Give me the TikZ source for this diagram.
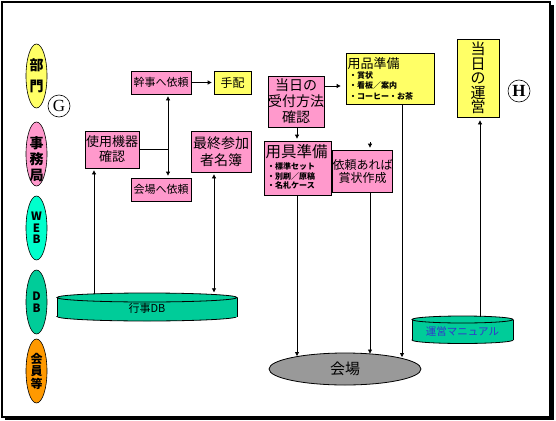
\documentclass[tikz,border=0pt]{standalone}
\usepackage{fontspec}
\setmainfont{Noto Sans CJK JP}
\newfontfamily\serifG{Liberation Serif}
\usetikzlibrary{arrows.meta,shapes.geometric,calc}
\definecolor{pinkc}{HTML}{FF99CC}
\definecolor{yellowc}{HTML}{FFFF66}
\definecolor{aquac}{HTML}{00FFCC}
\definecolor{tealc}{HTML}{00CC99}
\definecolor{orangec}{HTML}{FF9900}
\definecolor{grayc}{HTML}{999999}
\definecolor{bluec}{HTML}{3333CC}
\begin{document}
\begin{tikzpicture}[x=1pt,y=-1pt,
  box/.style={draw, line width=0.8pt, inner sep=0pt, align=center},
  lane/.style={ellipse, draw, line width=0.6pt, minimum width=21pt, minimum height=64pt, inner sep=0pt},
  lanetext/.style={inner sep=0pt, align=center, font=\bfseries\fontsize{14}{16}\selectfont},
  arr/.style={-{Triangle[length=4pt,width=4pt]}, line width=0.8pt, shorten >=2pt},
  arrb/.style={{Triangle[length=4pt,width=4pt]}-{Triangle[length=4pt,width=4pt]}, line width=0.8pt, shorten >=2pt, shorten <=2pt},
  ln/.style={line width=0.8pt},
  circ/.style={circle, draw, line width=0.6pt, minimum size=22pt, inner sep=0pt}]
\useasboundingbox (0,0) rectangle (556,420);
% frame
\draw[line width=1.2pt] (2,2) rectangle (550,417);
\fill (550,5) rectangle (554,420);
\fill (5,417) rectangle (554,420);

% lanes
\node[lane, fill=yellowc] (bumon) at (36.5,76) {};
\node[lanetext, font=\bfseries\fontsize{14}{21}\selectfont] (bumont) at (36.5,76) {部\\門};
\node[lane, fill=pinkc] (jimu) at (36.5,154) {};
\node[lanetext] (jimut) at (36.5,159) {事\\務\\局};
\node[lane, fill=aquac] (web) at (36.5,228) {};
\node[lanetext, font=\bfseries\fontsize{11.5}{11.5}\selectfont] (webt) at (36.5,228) {W\\E\\B};
\node[lane, fill=tealc] (dbl) at (36.5,302) {};
\node[lanetext, font=\bfseries\fontsize{11.5}{12}\selectfont] (dblt) at (36.5,302) {D\\B};
\node[lane, fill=orangec] (kaiin) at (36.5,371) {};
\node[lanetext, font=\bfseries\fontsize{12}{12.5}\selectfont] (kaiint) at (36.5,371) {会\\員\\等};

\node[circ, font=\serifG\fontsize{17}{17}\selectfont] (G) at (59,106) {G};
\node[circ, font=\serifG\bfseries\fontsize{17}{17}\selectfont] (H) at (519,91) {H};

% boxes
\node[box, fill=pinkc, minimum width=60pt, minimum height=23pt, font=\fontsize{11}{13}\selectfont] (kanji) at (161,82.5) {幹事へ依頼};
\node[box, fill=yellowc, minimum width=37pt, minimum height=23pt, font=\fontsize{12}{14}\selectfont] (tehai) at (232.5,82.5) {手配};
\node[box, fill=pinkc, minimum width=54pt, minimum height=37pt, font=\fontsize{13}{15}\selectfont] (shiyou) at (112,149.5) {使用機器\\確認};
\node[box, fill=pinkc, minimum width=60pt, minimum height=23pt, font=\fontsize{11}{13}\selectfont] (kaiirai) at (161,189.5) {会場へ依頼};
\node[box, fill=pinkc, minimum width=60pt, minimum height=41pt, font=\fontsize{14}{17}\selectfont] (saishuu) at (221,151.5) {最終参加\\者名簿};
\node[box, fill=pinkc, minimum width=54pt, minimum height=51pt, font=\fontsize{14}{16}\selectfont] (uketsuke) at (296,101.5) {当日の\\受付方法\\確認};
\node[box, fill=yellowc, minimum width=88pt, minimum height=51pt] (youhin) at (390,78.5) {};
\node[inner sep=0pt, anchor=west, font=\fontsize{13}{15}\selectfont] (youhint) at (347.5,64) {用品準備};
\node[inner sep=0pt, anchor=west, align=left, font=\bfseries\fontsize{8}{10.5}\selectfont] (youhinb) at (349,85.5) {・賞状\\・看板／案内\\・コーヒー・お茶};
\node[box, fill=pinkc, minimum width=67pt, minimum height=54pt] (yougu) at (297.5,168) {};
\node[inner sep=0pt, anchor=west, font=\fontsize{15.5}{17}\selectfont] (yougut) at (265.5,152) {用具準備};
\node[inner sep=0pt, anchor=west, align=left, font=\bfseries\fontsize{8}{9.8}\selectfont] (yougub) at (267,176) {・標準セット\\・別刷／原稿\\・名札ケース};
\node[box, fill=pinkc, minimum width=59pt, minimum height=42pt, font=\fontsize{12}{13}\selectfont] (irai) at (362.5,171) {依頼あれば\\賞状作成};
\node[box, fill=yellowc, minimum width=42pt, minimum height=78pt, font=\fontsize{15}{14.5}\selectfont] (unei) at (478,78) {当\\日\\の\\運\\営};

% cylinders
\filldraw[fill=tealc, line width=0.8pt] (147,316.5) ellipse [x radius=90, y radius=4.5];
\fill[tealc] (57,297.5) rectangle (237,316.5);
\draw[line width=0.8pt] (57,297.5) -- (57,316.5) (237,297.5) -- (237,316.5);
\filldraw[fill=tealc, line width=0.8pt] (147,297.5) ellipse [x radius=90, y radius=4.5];
\node[minimum width=180pt, minimum height=28pt, inner sep=0pt, font=\fontsize{11}{13}\selectfont] (db) at (147,308.5) {行事DB};

\filldraw[fill=tealc, line width=0.8pt] (462.5,340) ellipse [x radius=50.5, y radius=3.5];
\fill[tealc] (412,319.5) rectangle (513,340);
\draw[line width=0.8pt] (412,319.5) -- (412,340) (513,319.5) -- (513,340);
\filldraw[fill=tealc, line width=0.8pt] (462.5,319.5) ellipse [x radius=50.5, y radius=3.5];
\node[minimum width=101pt, minimum height=28pt, inner sep=0pt, text=bluec, font=\fontsize{10.5}{12}\selectfont] (manual) at (462.5,331) {運営マニュアル};

% venue
\node[ellipse, draw, line width=0.8pt, fill=grayc, minimum width=152pt, minimum height=32pt, inner sep=0pt, font=\fontsize{15}{17}\selectfont] (kaijo) at (345,369) {会場};

% helper coordinates
\coordinate (c94) at (94,0);
\coordinate (c168) at (168,0);
\coordinate (c214) at (214,0);
\coordinate (c297) at (297,0);
\coordinate (c370) at (370,0);
\coordinate (c402) at (402,0);
\coordinate (c480) at (480,0);
\coordinate (r86) at (0,86);
\coordinate (iraitop) at (370,142);
\coordinate (k1) at (297,357);
\coordinate (k2) at (370,354.5);
\coordinate (k3) at (402,358);

% connectors
\draw[arr] (kanji.east) -- (tehai.west);
\draw[arrb] (kanji.south -| c168) -- (kaiirai.north -| c168);
\draw[ln] (shiyou.east) -- (shiyou.east -| c168);
\draw[arr] (db.north -| c94) -- (shiyou.south -| c94);
\draw[arrb] (saishuu.south -| c214) -- (db.north -| c214);
\draw[arr, shorten >=5pt] (uketsuke.east |- r86) -- (youhin.west |- r86);
\draw[arr] (uketsuke.south -| c297) -- (yougu.north -| c297);
\draw[arr] (iraitop) -- (irai.north -| c370);
\draw[arr, shorten >=1pt] (yougu.south -| c297) -- (k1);
\draw[arr, shorten >=1pt] (irai.south -| c370) -- (k2);
\draw[arr, shorten >=1pt] (youhin.south -| c402) -- (k3);
\draw[arr, shorten >=3pt] (manual.north -| c480) -- (unei.south -| c480);
\end{tikzpicture}
\end{document}
